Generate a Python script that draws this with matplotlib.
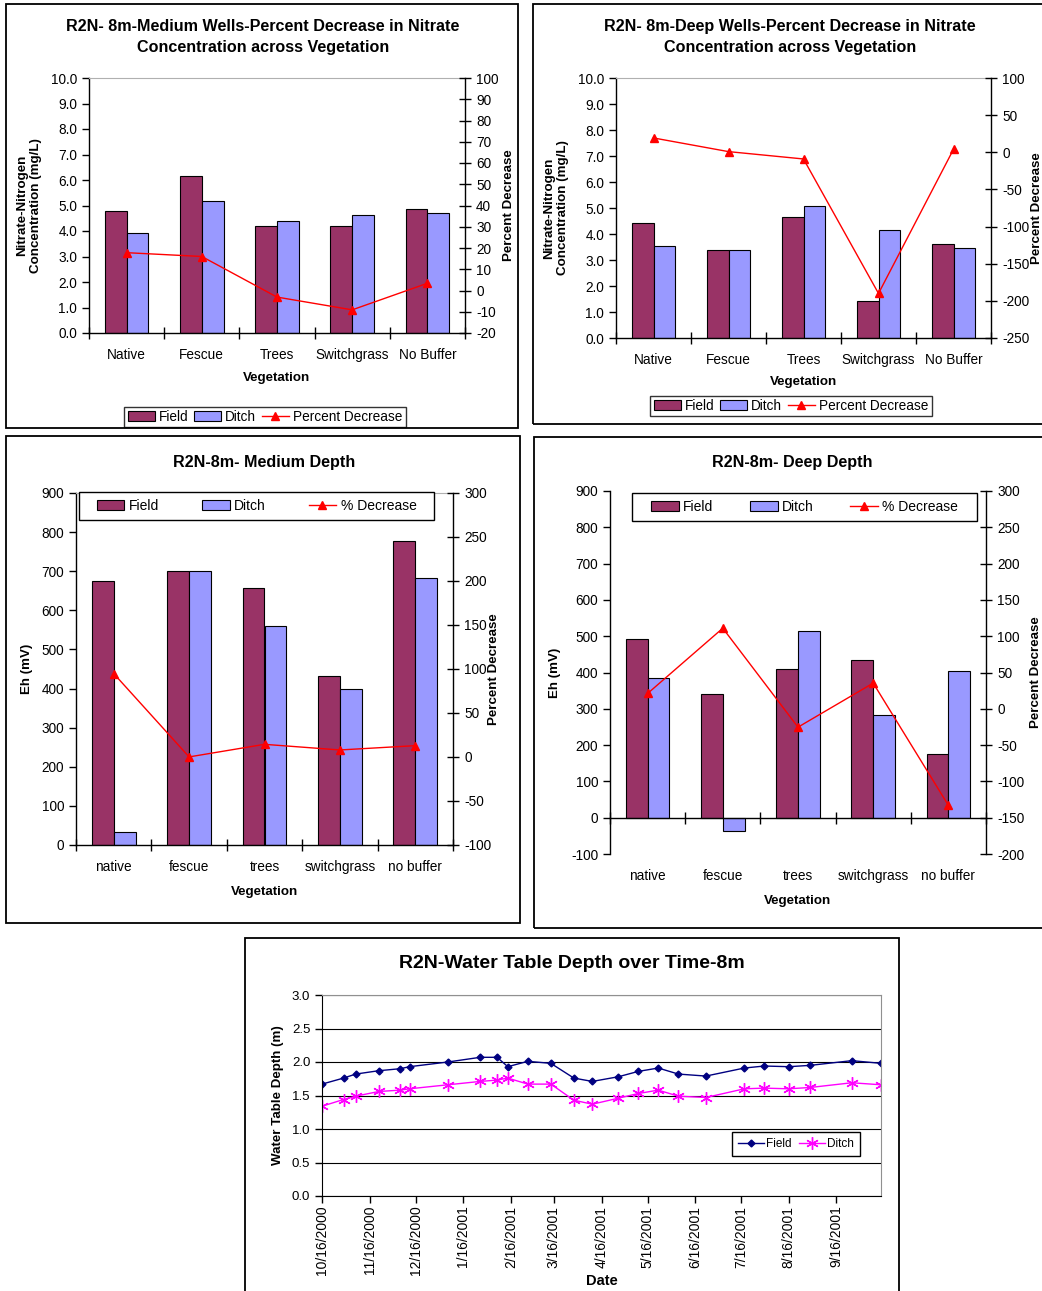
import datetime as dt
import numpy as np
import matplotlib
matplotlib.use('Agg')
import matplotlib.pyplot as plt
from matplotlib.patches import Rectangle, Patch
from matplotlib.lines import Line2D
from matplotlib.ticker import FormatStrFormatter

plt.rcParams['font.family'] = ['Liberation Sans', 'DejaVu Sans']
plt.rcParams['axes.unicode_minus'] = False

W, H = 1042, 1291
FIELD = '#993366'
DITCH = '#9999FF'

veg_upper = ['Native', 'Fescue', 'Trees', 'Switchgrass', 'No Buffer']
veg_lower = ['native', 'fescue', 'trees', 'switchgrass', 'no buffer']

# nitrate-nitrogen (mg/L) and percent decrease
med_field = [4.78, 6.17, 4.21, 4.21, 4.88]
med_ditch = [3.94, 5.16, 4.38, 4.63, 4.69]
med_pct = [17.8, 16.0, -3.1, -9.1, 3.4]

deep_field = [4.41, 3.37, 4.65, 1.43, 3.61]
deep_ditch = [3.55, 3.37, 5.09, 4.14, 3.46]
deep_pct = [19.3, 0.9, -9.0, -190.0, 4.0]

# Eh (mV) and percent decrease
eh_med_field = [674, 701, 656, 431, 776]
eh_med_ditch = [32, 700, 560, 399, 683]
eh_med_pct = [94.8, 0.1, 14.4, 8.0, 12.9]

eh_deep_field = [491, 341, 410, 434, 176]
eh_deep_ditch = [385, -37, 515, 283, 404]
eh_deep_pct = [21.1, 111.0, -25.3, 35.4, -133.0]

# water table depth (m)
wt_dates = ['2000-10-16', '2000-10-30', '2000-11-07', '2000-11-22', '2000-12-06',
            '2000-12-12', '2001-01-06', '2001-01-27', '2001-02-07', '2001-02-14',
            '2001-02-27', '2001-03-14', '2001-03-29', '2001-04-10', '2001-04-27',
            '2001-05-10', '2001-05-23', '2001-06-05', '2001-06-23', '2001-07-18',
            '2001-07-31', '2001-08-16', '2001-08-30', '2001-09-26', '2001-10-15']
wt_field = [1.67, 1.76, 1.82, 1.87, 1.90, 1.93, 2.00, 2.07, 2.07, 1.93,
            2.01, 1.98, 1.76, 1.71, 1.78, 1.86, 1.91, 1.82, 1.79, 1.91,
            1.94, 1.93, 1.95, 2.02, 1.98]
wt_ditch = [1.34, 1.44, 1.49, 1.56, 1.58, 1.60, 1.66, 1.71, 1.73, 1.76,
            1.67, 1.67, 1.43, 1.37, 1.46, 1.53, 1.58, 1.49, 1.47, 1.60,
            1.61, 1.60, 1.62, 1.69, 1.66]
wt_ticks = ['2000-10-16', '2000-11-16', '2000-12-16', '2001-01-16', '2001-02-16',
            '2001-03-16', '2001-04-16', '2001-05-16', '2001-06-16', '2001-07-16',
            '2001-08-16', '2001-09-16']
wt_tick_labels = ['10/16/2000', '11/16/2000', '12/16/2000', '1/16/2001', '2/16/2001',
                  '3/16/2001', '4/16/2001', '5/16/2001', '6/16/2001', '7/16/2001',
                  '8/16/2001', '9/16/2001']

fig = plt.figure(figsize=(W / 100, H / 100), dpi=100)


def px_rect(l, t, r, b):
    return [l / W, 1 - b / H, (r - l) / W, (b - t) / H]


def frame(l, t, r, b):
    fig.add_artist(Rectangle((l / W, 1 - b / H), (r - l) / W, (b - t) / H,
                             transform=fig.transFigure, fill=False, ec='black', lw=1.3))


def ax_frac(rect, px, py):
    l, t, r, b = rect
    return (px - l) / (r - l), (b - py) / (b - t)


def veg_chart(rect, cats, field, ditch, pct, ylim, yticks, yfmt, plim, pticks,
              ylabel, ylab_x, plab_x, xlab_y, zero_axis=False):
    ax = fig.add_axes(px_rect(*rect))
    x = np.arange(len(cats))
    w = 0.29
    ax.bar(x - w / 2, field, w, color=FIELD, ec='black', lw=0.8)
    ax.bar(x + w / 2, ditch, w, color=DITCH, ec='black', lw=0.8)
    ax.set_xlim(-0.5, len(cats) - 0.5)
    ax.set_ylim(*ylim)
    ax.set_yticks(yticks)
    ax.yaxis.set_major_formatter(FormatStrFormatter(yfmt))
    ax.tick_params(axis='y', direction='out', length=5, width=1, labelsize=9.8)
    ax.set_xticks(np.arange(-0.5, len(cats)))
    ax.set_xticks(x, minor=True)
    ax.set_xticklabels(cats, minor=True)
    ax.spines['right'].set_visible(False)
    ax.spines['left'].set_linewidth(1)
    if zero_axis:
        ax.spines['bottom'].set_visible(False)
        ax.spines['top'].set_position(('data', 0))
        ax.spines['top'].set_linewidth(1)
        ax.tick_params(axis='x', which='major', bottom=False, top=True, labelbottom=False,
                       labeltop=False, direction='inout', length=9, width=1)
    else:
        ax.spines['top'].set_color('#b0b0b0')
        ax.spines['top'].set_linewidth(0.8)
        ax.spines['bottom'].set_linewidth(1)
        ax.tick_params(axis='x', which='major', labelbottom=False, direction='inout',
                       length=9, width=1)
    ax.tick_params(axis='x', which='minor', bottom=True, top=False, length=0,
                   labelsize=9.8, pad=11)
    ax.set_ylabel(ylabel, fontsize=9.6, fontweight='bold', va='center', linespacing=1.15)
    ax.yaxis.set_label_coords(ax_frac(rect, ylab_x, 0)[0], 0.5)
    ax.set_xlabel('Vegetation', fontsize=9.6, fontweight='bold', va='center')
    ax.xaxis.set_label_coords(0.5, ax_frac(rect, 0, xlab_y)[1])

    ax2 = ax.twinx()
    ax2.plot(x, pct, color='red', lw=1, marker='^', ms=6)
    ax2.set_ylim(*plim)
    ax2.set_yticks(pticks)
    for s in ['top', 'bottom', 'left']:
        ax2.spines[s].set_visible(False)
    ax2.spines['right'].set_linewidth(1)
    ax2.tick_params(axis='y', direction='inout', length=9, width=1, labelsize=9.8)
    ax2.set_ylabel('Percent Decrease', fontsize=9.6, fontweight='bold', va='center')
    ax2.yaxis.set_label_coords(ax_frac(rect, plab_x, 0)[0], 0.5)
    return ax, ax2


def bar_handles(line_label):
    return [Patch(fc=FIELD, ec='black', lw=0.8, label='Field'),
            Patch(fc=DITCH, ec='black', lw=0.8, label='Ditch'),
            Line2D([], [], color='red', lw=1, marker='^', ms=6, label=line_label)]


def inner_legend(ax2, rect, box, colspace):
    # box drawn separately so the entries keep Excel's wide side margins
    l, t, r, b = box
    x0, y1 = ax_frac(rect, l, b)
    x1, y0 = ax_frac(rect, r, t)
    ax2.add_patch(Rectangle((x0, y1), x1 - x0, y0 - y1, transform=ax2.transAxes,
                            fc='white', ec='black', lw=1, zorder=5, clip_on=False))
    leg = ax2.legend(handles=bar_handles('% Decrease'), loc='center',
                     bbox_to_anchor=((x0 + x1) / 2, (y0 + y1) / 2), ncol=3, fontsize=10,
                     frameon=False, handlelength=2.0, handleheight=0.7, handletextpad=0.3,
                     columnspacing=colspace, borderpad=0, borderaxespad=0)
    leg.set_zorder(6)


# ---- panel 1: medium wells nitrate
frame(6, 4, 518, 428)
fig.text(263 / W, 1 - 37 / H, 'R2N- 8m-Medium Wells-Percent Decrease in Nitrate\nConcentration across Vegetation',
         ha='center', va='center', fontsize=11.6, fontweight='bold', linespacing=1.5)
r1 = (89, 78, 465, 333)
ax, ax2 = veg_chart(r1, veg_upper, med_field, med_ditch, med_pct, (0, 10), np.arange(0, 11, 1), '%.1f',
                    (-20, 100), np.arange(-20, 101, 10), 'Nitrate-Nitrogen\nConcentration (mg/L)',
                    29, 509, 378)
ax2.legend(handles=bar_handles('Percent Decrease'), loc='center', bbox_to_anchor=ax_frac(r1, 265, 417),
           ncol=3, fontsize=9.8, frameon=True, fancybox=False, edgecolor='black', handlelength=2.0,
           handleheight=0.7, handletextpad=0.3, columnspacing=0.4, borderpad=0.25, borderaxespad=0)

# ---- panel 2: deep wells nitrate
frame(533, 4, 1060, 424)
fig.text(790 / W, 1 - 37 / H, 'R2N- 8m-Deep Wells-Percent Decrease in Nitrate\nConcentration across Vegetation',
         ha='center', va='center', fontsize=11.6, fontweight='bold', linespacing=1.5)
r2 = (616, 78, 991, 338)
ax, ax2 = veg_chart(r2, veg_upper, deep_field, deep_ditch, deep_pct, (0, 10), np.arange(0, 11, 1), '%.1f',
                    (-250, 100), np.arange(-250, 101, 50), 'Nitrate-Nitrogen\nConcentration (mg/L)',
                    556, 1037, 382)
ax2.legend(handles=bar_handles('Percent Decrease'), loc='center', bbox_to_anchor=ax_frac(r2, 791, 406),
           ncol=3, fontsize=9.8, frameon=True, fancybox=False, edgecolor='black', handlelength=2.0,
           handleheight=0.7, handletextpad=0.3, columnspacing=0.4, borderpad=0.25, borderaxespad=0)

# ---- panel 3: medium depth Eh
frame(6, 436, 520, 923)
fig.text(264 / W, 1 - 462 / H, 'R2N-8m- Medium Depth', ha='center', va='center',
         fontsize=11.6, fontweight='bold')
r3 = (76, 493, 453, 845)
ax, ax2 = veg_chart(r3, veg_lower, eh_med_field, eh_med_ditch, eh_med_pct, (0, 900), np.arange(0, 901, 100), '%d',
                    (-100, 300), np.arange(-100, 301, 50), 'Eh (mV)', 27, 494, 892)
inner_legend(ax2, r3, (79, 492, 434, 520), 3.1)

# ---- panel 4: deep depth Eh
frame(534, 437, 1060, 928)
fig.text(792 / W, 1 - 462 / H, 'R2N-8m- Deep Depth', ha='center', va='center',
         fontsize=11.6, fontweight='bold')
r4 = (610, 491, 986, 854)
ax, ax2 = veg_chart(r4, veg_lower, eh_deep_field, eh_deep_ditch, eh_deep_pct, (-100, 900), np.arange(-100, 901, 100), '%d',
                    (-200, 300), np.arange(-200, 301, 50), 'Eh (mV)', 555, 1036, 901, zero_axis=True)
inner_legend(ax2, r4, (632, 493, 977, 521), 2.65)

# ---- panel 5: water table depth
frame(245, 938, 899, 1310)
fig.text(572 / W, 1 - 964 / H, 'R2N-Water Table Depth over Time-8m', ha='center', va='center',
         fontsize=14, fontweight='bold')
r5 = (322, 995, 881, 1196)
ax = fig.add_axes(px_rect(*r5))
dates = [dt.datetime.strptime(d, '%Y-%m-%d') for d in wt_dates]
ax.plot(dates, wt_field, color='#000080', lw=1, marker='D', ms=3.5, label='Field')
ax.plot(dates, wt_ditch, color='#FF00FF', lw=1, marker=(6, 2, 0), ms=9, mew=1, label='Ditch')
ax.set_xlim(dates[0], dates[-1])
ax.set_ylim(0, 3)
ax.set_yticks(np.arange(0, 3.01, 0.5))
ax.yaxis.set_major_formatter(FormatStrFormatter('%.1f'))
ax.grid(axis='y', color='black', lw=0.8)
ax.set_axisbelow(True)
ax.set_xticks([dt.datetime.strptime(d, '%Y-%m-%d') for d in wt_ticks])
ax.set_xticklabels(wt_tick_labels, rotation=90, fontsize=10)
ax.tick_params(axis='x', direction='out', length=5, width=1, pad=2)
ax.tick_params(axis='y', direction='out', length=5, width=1, labelsize=9.5)
ax.spines['top'].set_color('#909090')
ax.spines['right'].set_color('#909090')
ax.set_ylabel('Water Table Depth (m)', fontsize=9.6, fontweight='bold', va='center')
ax.yaxis.set_label_coords(ax_frac(r5, 278, 0)[0], 0.5)
ax.set_xlabel('Date', fontsize=10.5, fontweight='bold', va='center')
ax.xaxis.set_label_coords(0.5, ax_frac(r5, 0, 1281)[1])
x0, y1 = ax_frac(r5, 732, 1159)
x1, y0 = ax_frac(r5, 860, 1129)
ax.legend(loc='center', bbox_to_anchor=(x0, y1, x1 - x0, y0 - y1), mode='expand', ncol=2,
          fontsize=8.5, frameon=True, fancybox=False, edgecolor='black', framealpha=1,
          handlelength=2.2, handletextpad=0.2, columnspacing=0.4, borderpad=0.5, borderaxespad=0)

fig.savefig('out.png', dpi=100)
